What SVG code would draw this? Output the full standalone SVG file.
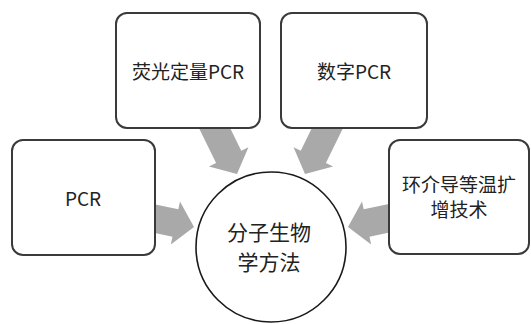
<svg xmlns="http://www.w3.org/2000/svg" width="531" height="324" viewBox="0 0 531 324">
  <defs>
    <polygon id="blockArrow" points="0,0 -19,-22 -19,-14 -62,-14 -62,14 -19,14 -19,22"/>
  </defs>
  <style>
    .box { fill: #ffffff; stroke: #3a3a3a; stroke-width: 2; }
    .circ { fill: #ffffff; stroke: #1a1a1a; stroke-width: 1.6; }
    .arrow { fill: #a9a9a9; }
    .lbl { font-family: "Noto Sans CJK SC", "Noto Sans", sans-serif; font-size: 19px; fill: #222222; text-anchor: middle; }
    .big { font-size: 21px; }
  </style>
  <rect width="531" height="324" fill="#ffffff"/>
  <g id="connectors">
    <use href="#blockArrow" class="arrow" transform="translate(237,174) rotate(64)"/>
    <use href="#blockArrow" class="arrow" transform="translate(305,174) rotate(116)"/>
    <use href="#blockArrow" class="arrow" transform="translate(194,227) rotate(12)"/>
    <use href="#blockArrow" class="arrow" transform="translate(348,227) rotate(168)"/>
  </g>
  <g id="node-fluorescent-qpcr">
    <rect class="box" x="116" y="13" width="144" height="115" rx="11"/>
    <text class="lbl" x="188" y="79">荧光定量PCR</text>
  </g>
  <g id="node-digital-pcr">
    <rect class="box" x="281" y="13" width="146" height="115" rx="11"/>
    <text class="lbl" x="354" y="79">数字PCR</text>
  </g>
  <g id="node-pcr">
    <rect class="box" x="12" y="140" width="143" height="115" rx="11"/>
    <text class="lbl" x="83" y="206">PCR</text>
  </g>
  <g id="node-lamp">
    <rect class="box" x="389" y="140" width="140" height="114" rx="11"/>
    <text class="lbl"><tspan x="459" y="192">环介导等温扩</tspan><tspan x="459" y="217">增技术</tspan></text>
  </g>
  <g id="node-center">
    <circle class="circ" cx="271" cy="247" r="75"/>
    <text class="lbl big"><tspan x="269" y="240">分子生物</tspan><tspan x="269" y="270">学方法</tspan></text>
  </g>
</svg>
